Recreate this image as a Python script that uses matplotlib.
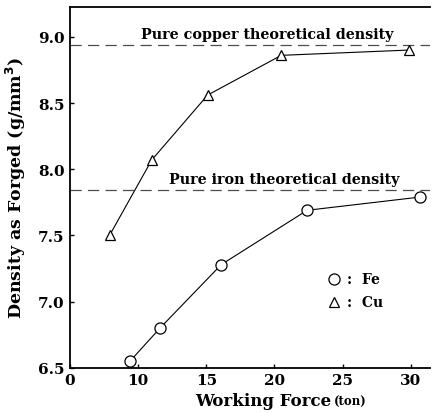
import matplotlib
matplotlib.use("Agg")
import matplotlib.pyplot as plt

plt.rcParams['font.family'] = ['DejaVu Serif']
plt.rcParams['font.weight'] = 'bold'

cu_force = [7.9, 11.0, 15.1, 20.5, 29.9]
cu_density = [7.50, 8.07, 8.56, 8.86, 8.90]
fe_force = [9.4, 11.6, 16.1, 22.4, 30.7]
fe_density = [6.55, 6.80, 7.28, 7.69, 7.79]
cu_theory = 8.935
fe_theory = 7.845
xticks = [5, 10, 15, 20, 25, 30]
xticklabels = ['0', '10', '15', '20', '25', '30']
yticks = [6.5, 7.0, 7.5, 8.0, 8.5, 9.0]

fig = plt.figure(figsize=(4.32, 4.14), dpi=100)
ax = fig.add_axes([0.162, 0.109, 0.833, 0.872])

ax.axhline(cu_theory, color='0.3', lw=0.9, ls=(0, (9, 5)))
ax.axhline(fe_theory, color='0.3', lw=0.9, ls=(0, (9, 5)))
ax.plot(cu_force, cu_density, color='black', lw=0.8, marker='^', ms=7,
        mfc='white', mec='black', mew=0.9)
ax.plot(fe_force, fe_density, color='black', lw=0.8, marker='o', ms=8,
        mfc='white', mec='black', mew=0.9)

ax.text(10.2, cu_theory + 0.03, 'Pure copper theoretical density', fontsize=10.3,
        fontweight='bold', va='bottom')
ax.text(12.3, fe_theory + 0.03, 'Pure iron theoretical density', fontsize=10.3,
        fontweight='bold', va='bottom')

ax.plot([24.4], [7.17], marker='o', ms=8, mfc='white', mec='black', mew=0.9, ls='none')
ax.text(25.3, 7.17, ':  Fe', fontsize=10, fontweight='bold', va='center')
ax.plot([24.4], [7.0], marker='^', ms=7, mfc='white', mec='black', mew=0.9, ls='none')
ax.text(25.3, 7.0, ':  Cu', fontsize=10, fontweight='bold', va='center')

ax.set_xlim(5, 31.4)
ax.set_ylim(6.5, 9.226)
ax.set_xticks(xticks)
ax.set_xticklabels(xticklabels)
ax.set_yticks(yticks)
ax.set_yticklabels(['%.1f' % v for v in yticks])
ax.tick_params(direction='in', length=3, width=1, labelsize=11, pad=4)
for lab in ax.get_xticklabels() + ax.get_yticklabels():
    lab.set_fontweight('bold')

ax.spines['right'].set_visible(False)
for s in ['left', 'top', 'bottom']:
    ax.spines[s].set_linewidth(1.3)

ax.set_ylabel('Density as Forged (g/mm$^3$)', fontsize=12.5, fontweight='bold', labelpad=7)
ax.text(0.727, -0.068, 'Working Force', transform=ax.transAxes, fontsize=12,
        fontweight='bold', ha='right', va='top')
ax.text(0.732, -0.074, '(ton)', transform=ax.transAxes, fontsize=8.5,
        fontweight='bold', ha='left', va='top')

fig.savefig('out.png', dpi=100)
